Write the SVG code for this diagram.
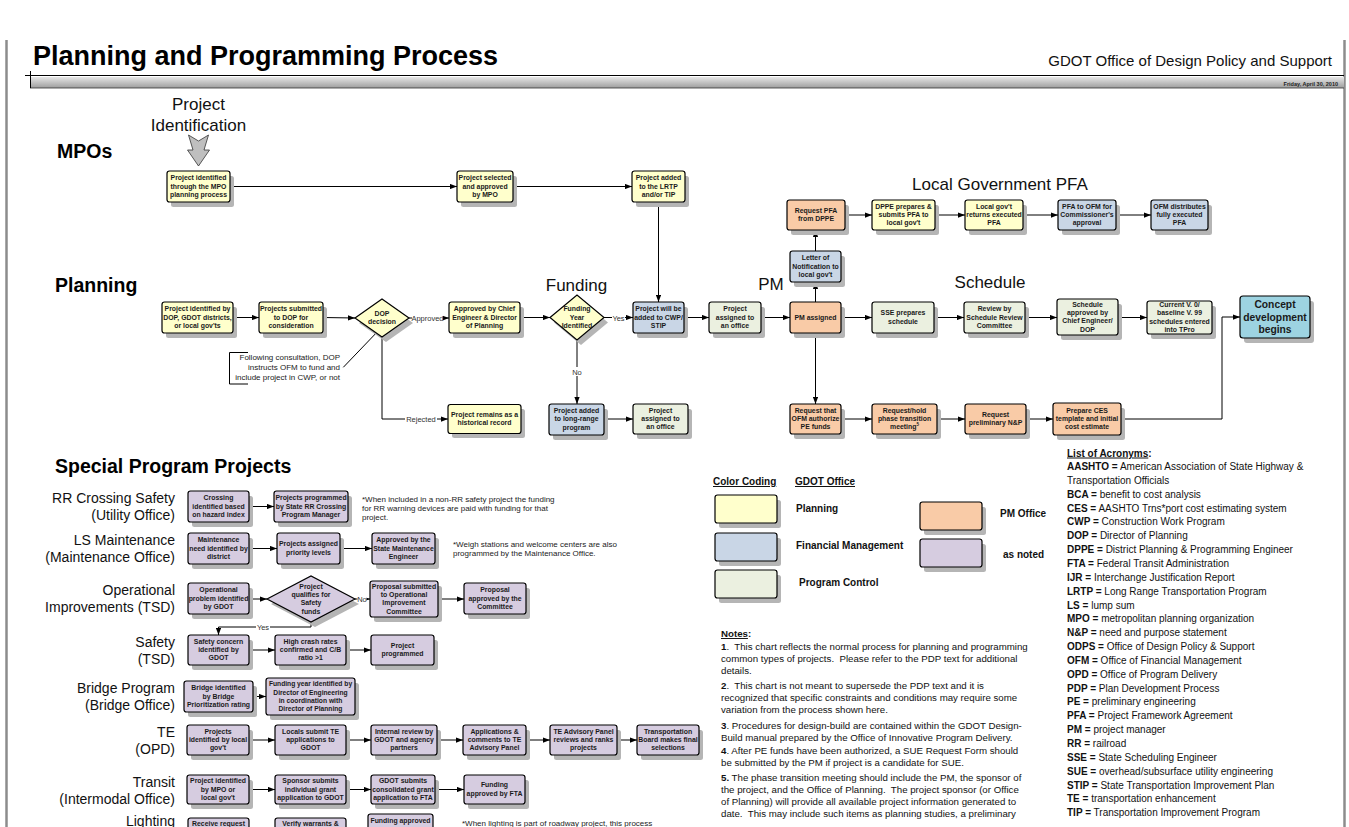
<svg xmlns="http://www.w3.org/2000/svg" width="1349" height="827" viewBox="0 0 1349 827">
<defs>
<style>
text{font-family:'Liberation Sans',Arial,sans-serif}
.n{stroke:#000;stroke-width:1.2}
.y{fill:#FFFFCC}.b{fill:#C9D6E6}.g{fill:#EBF0E0}.o{fill:#F9CBA7}.p{fill:#D6CCE0}.c{fill:#9DD3E1}
.sh{fill:#B5B5B5}
.t{font-weight:bold;font-size:6.9px;text-anchor:middle;fill:#1a1a1a}
.ln{stroke:#000;stroke-width:1;fill:none}
.lbl{font-size:7.5px;fill:#333;text-anchor:middle}
.hd{font-size:17px;fill:#111;text-anchor:middle}
.sec{font-size:19.5px;font-weight:bold;fill:#000}
.rl{font-size:14px;fill:#111;text-anchor:end}
.nt{font-size:8px;fill:#222}
.lg{font-size:10px;font-weight:bold;fill:#111}
.ac{font-size:10px;fill:#111}
.no{font-size:9.7px;fill:#111}
</style>
<marker id="ah" viewBox="0 0 8 6" refX="8" refY="3" markerWidth="7" markerHeight="5.5" markerUnits="userSpaceOnUse" orient="auto"><path d="M0,0 L8,3 L0,6 z" fill="#000"/></marker>
<linearGradient id="gb" x1="0" y1="0" x2="0" y2="1"><stop offset="0" stop-color="#e6e6e6"/><stop offset="1" stop-color="#9e9e9e"/></linearGradient>
</defs>
<rect width="1349" height="827" fill="#fff"/>
<g id="frame">
<line x1="6.5" y1="40" x2="6.5" y2="827" stroke="#8c8c8c" stroke-width="2.5"/>
<line x1="1344.5" y1="40" x2="1344.5" y2="827" stroke="#8c8c8c" stroke-width="2.5"/>
</g>
<g id="header">
<text x="33" y="65" font-size="27" font-weight="bold" fill="#000">Planning and Programming Process</text>
<text x="1332" y="66" font-size="15" text-anchor="end" fill="#111">GDOT Office of Design Policy and Support</text>
<rect x="30" y="77" width="1314" height="11" fill="url(#gb)"/>
<line x1="25" y1="75.5" x2="1344" y2="75.5" stroke="#000"/>
<line x1="30" y1="88" x2="1344" y2="88" stroke="#333" stroke-width="0.8"/>
<line x1="30.5" y1="71" x2="30.5" y2="88" stroke="#000"/>
<text x="1338" y="85.5" font-size="5.5" font-weight="bold" text-anchor="end" fill="#222">Friday, April 30, 2010</text>
</g>
<g id="section-labels">
<text class="sec" x="57" y="158">MPOs</text>
<text class="sec" x="55" y="292">Planning</text>
<text class="sec" x="55" y="473" font-size="20">Special Program Projects</text>
<text class="hd" x="198.5" y="110" font-size="16.5">Project</text>
<text class="hd" x="198.5" y="131" font-size="16.5">Identification</text>
<polygon points="188.5,135 198.5,141 208.5,135 204,150 209.5,150 198.5,166 187.5,150 193,150" fill="#BFBFBF" stroke="#333" stroke-width="0.8"/>
<text class="hd" x="1000" y="190">Local Government PFA</text>
<text class="hd" x="576.5" y="291">Funding</text>
<text class="hd" x="771" y="290">PM</text>
<text class="hd" x="990" y="288">Schedule</text>
</g>
<g id="connectors">
<line class="ln" x1="230" y1="186.5" x2="457" y2="186.5" marker-end="url(#ah)"/>
<line class="ln" x1="513" y1="186.5" x2="632" y2="186.5" marker-end="url(#ah)"/>
<line class="ln" x1="658.5" y1="202" x2="658.5" y2="302" marker-end="url(#ah)"/>
<line class="ln" x1="233" y1="317.5" x2="259" y2="317.5" marker-end="url(#ah)"/>
<line class="ln" x1="323" y1="317.5" x2="355" y2="318" marker-end="url(#ah)"/>
<line class="ln" x1="409" y1="318" x2="449" y2="318" marker-end="url(#ah)"/>
<rect x="412" y="313" width="31" height="9" fill="#fff"/>
<text class="lbl" x="427.5" y="320.5">Approved</text>
<line class="ln" x1="520" y1="317.5" x2="550" y2="317.5" marker-end="url(#ah)"/>
<line class="ln" x1="604" y1="317.5" x2="633" y2="317.5" marker-end="url(#ah)"/>
<rect x="612" y="313" width="13" height="9" fill="#fff"/>
<text class="lbl" x="618.5" y="320.5">Yes</text>
<line class="ln" x1="684" y1="317.5" x2="709" y2="317.5" marker-end="url(#ah)"/>
<line class="ln" x1="761" y1="317.5" x2="790" y2="317.5" marker-end="url(#ah)"/>
<line class="ln" x1="841" y1="317.5" x2="872" y2="317.5" marker-end="url(#ah)"/>
<line class="ln" x1="934" y1="317.5" x2="964" y2="317.5" marker-end="url(#ah)"/>
<line class="ln" x1="1025" y1="317.5" x2="1057" y2="317.5" marker-end="url(#ah)"/>
<line class="ln" x1="1118" y1="317.5" x2="1147" y2="317.5" marker-end="url(#ah)"/>
<line class="ln" x1="815.5" y1="302" x2="815.5" y2="282" marker-end="url(#ah)"/>
<line class="ln" x1="815.5" y1="251" x2="815.5" y2="230" marker-end="url(#ah)"/>
<line class="ln" x1="845" y1="215" x2="872" y2="215" marker-end="url(#ah)"/>
<line class="ln" x1="935" y1="215" x2="965" y2="215" marker-end="url(#ah)"/>
<line class="ln" x1="1023" y1="215" x2="1058" y2="215" marker-end="url(#ah)"/>
<line class="ln" x1="1116" y1="215" x2="1151" y2="215" marker-end="url(#ah)"/>
<line class="ln" x1="815.5" y1="333" x2="815.5" y2="404" marker-end="url(#ah)"/>
<line class="ln" x1="841" y1="419" x2="872" y2="419" marker-end="url(#ah)"/>
<line class="ln" x1="937" y1="419" x2="965" y2="419" marker-end="url(#ah)"/>
<line class="ln" x1="1026" y1="419" x2="1053" y2="419" marker-end="url(#ah)"/>
<polyline class="ln" points="1121,419 1222,419 1222,317 1240,317" marker-end="url(#ah)"/>
<line class="ln" x1="577" y1="340" x2="577" y2="404" marker-end="url(#ah)"/>
<rect x="571" y="367" width="12" height="9" fill="#fff"/>
<text class="lbl" x="577" y="374.5">No</text>
<line class="ln" x1="604" y1="419" x2="633" y2="419" marker-end="url(#ah)"/>
<polyline class="ln" points="382,337 382,419 448,419" marker-end="url(#ah)"/>
<rect x="405" y="414.5" width="32" height="9" fill="#fff"/>
<text class="lbl" x="421" y="422">Rejected</text>
<line class="ln" x1="343.3" y1="367.3" x2="380.7" y2="328.3" stroke-width="0.8"/>
<path class="ln" d="M248,352.5 H229.5 V384 H248" stroke-width="0.8"/>
<line class="ln" x1="249" y1="506.5" x2="274" y2="506.5" marker-end="url(#ah)"/>
<line class="ln" x1="249" y1="548.5" x2="277" y2="548.5" marker-end="url(#ah)"/>
<line class="ln" x1="340" y1="548.5" x2="372" y2="548.5" marker-end="url(#ah)"/>
<line class="ln" x1="249" y1="599" x2="267" y2="599" marker-end="url(#ah)"/>
<line class="ln" x1="355" y1="599" x2="370" y2="599" marker-end="url(#ah)"/>
<rect x="357.5" y="594.5" width="9" height="9" fill="#fff"/>
<text class="lbl" x="362" y="602">No</text>
<line class="ln" x1="438" y1="599" x2="464" y2="599" marker-end="url(#ah)"/>
<polyline class="ln" points="311,622 311,627 218.5,627 218.5,635" marker-end="url(#ah)"/>
<rect x="256" y="622.5" width="14" height="9" fill="#fff"/>
<text class="lbl" x="263" y="630">Yes</text>
<line class="ln" x1="249" y1="650" x2="275" y2="650" marker-end="url(#ah)"/>
<line class="ln" x1="346" y1="650" x2="371" y2="650" marker-end="url(#ah)"/>
<line class="ln" x1="253" y1="696.5" x2="266" y2="696.5" marker-end="url(#ah)"/>
<line class="ln" x1="249" y1="740" x2="275" y2="740" marker-end="url(#ah)"/>
<line class="ln" x1="346" y1="740" x2="371" y2="740" marker-end="url(#ah)"/>
<line class="ln" x1="437" y1="740" x2="463" y2="740" marker-end="url(#ah)"/>
<line class="ln" x1="526" y1="740" x2="550" y2="740" marker-end="url(#ah)"/>
<line class="ln" x1="617" y1="740" x2="637" y2="740" marker-end="url(#ah)"/>
<line class="ln" x1="249" y1="789.5" x2="275" y2="789.5" marker-end="url(#ah)"/>
<line class="ln" x1="346" y1="789.5" x2="371" y2="789.5" marker-end="url(#ah)"/>
<line class="ln" x1="435" y1="789.5" x2="464" y2="789.5" marker-end="url(#ah)"/>
</g>
<g id="annotations">
<text class="nt" font-size="7.7" text-anchor="end"><tspan x="340" y="360">Following consultation, DOP</tspan><tspan x="340" y="370">instructs OFM to fund and</tspan><tspan x="340" y="380">include project in CWP, or not</tspan></text>
<text class="nt"><tspan x="362" y="502">*When included in a non-RR safety project the funding</tspan><tspan x="362" y="511">for RR warning devices are paid with funding for that</tspan><tspan x="362" y="520">project.</tspan></text>
<text class="nt"><tspan x="453" y="547">*Weigh stations and welcome centers are also</tspan><tspan x="453" y="556">programmed by the Maintenance Office.</tspan></text>
<text class="nt" x="462" y="826">*When lighting is part of roadway project, this process</text>
</g>
<g id="row-labels">
<text class="rl" x="175" y="503">RR Crossing Safety</text><text class="rl" x="175" y="520">(Utility Office)</text>
<text class="rl" x="175" y="545">LS Maintenance</text><text class="rl" x="175" y="562">(Maintenance Office)</text>
<text class="rl" x="175" y="595">Operational</text><text class="rl" x="175" y="612">Improvements (TSD)</text>
<text class="rl" x="175" y="647">Safety</text><text class="rl" x="175" y="664">(TSD)</text>
<text class="rl" x="175" y="693">Bridge Program</text><text class="rl" x="175" y="710">(Bridge Office)</text>
<text class="rl" x="175" y="737">TE</text><text class="rl" x="175" y="754">(OPD)</text>
<text class="rl" x="175" y="787">Transit</text><text class="rl" x="175" y="804">(Intermodal Office)</text>
<text class="rl" x="175" y="826">Lighting</text>
</g>
<g id="A1"><rect class="sh" x="171" y="176" width="63" height="31" rx="2.5"/><rect class="n y" x="167" y="171" width="63" height="31" rx="2.5"/><text class="t" y="180.2"><tspan x="198.5">Project identified</tspan><tspan x="198.5" dy="8.3">through the MPO</tspan><tspan x="198.5" dy="8.3">planning process</tspan></text></g>
<g id="A2"><rect class="sh" x="461" y="176" width="56" height="31" rx="2.5"/><rect class="n y" x="457" y="171" width="56" height="31" rx="2.5"/><text class="t" y="180.2"><tspan x="485">Project selected</tspan><tspan x="485" dy="8.3">and approved</tspan><tspan x="485" dy="8.3">by MPO</tspan></text></g>
<g id="A3"><rect class="sh" x="636" y="176" width="53" height="31" rx="2.5"/><rect class="n y" x="632" y="171" width="53" height="31" rx="2.5"/><text class="t" y="180.2"><tspan x="658.5">Project added</tspan><tspan x="658.5" dy="8.3">to the LRTP</tspan><tspan x="658.5" dy="8.3">and/or TIP</tspan></text></g>
<g id="P1"><rect class="sh" x="791" y="205" width="58" height="30" rx="2.5"/><rect class="n o" x="787" y="200" width="58" height="30" rx="2.5"/><text class="t" y="212.9"><tspan x="816">Request PFA</tspan><tspan x="816" dy="8.3">from DPPE</tspan></text></g>
<g id="P2"><rect class="sh" x="876" y="205" width="63" height="30" rx="2.5"/><rect class="n y" x="872" y="200" width="63" height="30" rx="2.5"/><text class="t" y="208.7"><tspan x="903.5">DPPE prepares &amp;</tspan><tspan x="903.5" dy="8.3">submits PFA to</tspan><tspan x="903.5" dy="8.3">local gov't</tspan></text></g>
<g id="P3"><rect class="sh" x="969" y="205" width="58" height="30" rx="2.5"/><rect class="n y" x="965" y="200" width="58" height="30" rx="2.5"/><text class="t" y="208.7"><tspan x="994">Local gov't</tspan><tspan x="994" dy="8.3">returns executed</tspan><tspan x="994" dy="8.3">PFA</tspan></text></g>
<g id="P4"><rect class="sh" x="1062" y="205" width="58" height="30" rx="2.5"/><rect class="n b" x="1058" y="200" width="58" height="30" rx="2.5"/><text class="t" y="208.7"><tspan x="1087">PFA to OFM for</tspan><tspan x="1087" dy="8.3">Commissioner's</tspan><tspan x="1087" dy="8.3">approval</tspan></text></g>
<g id="P5"><rect class="sh" x="1155" y="205" width="57" height="30" rx="2.5"/><rect class="n b" x="1151" y="200" width="57" height="30" rx="2.5"/><text class="t" y="208.7"><tspan x="1179.5">OFM distributes</tspan><tspan x="1179.5" dy="8.3">fully executed</tspan><tspan x="1179.5" dy="8.3">PFA</tspan></text></g>
<g id="L1"><rect class="sh" x="794" y="256" width="51" height="31" rx="2.5"/><rect class="n b" x="790" y="251" width="51" height="31" rx="2.5"/><text class="t" y="260.2"><tspan x="815.5">Letter of</tspan><tspan x="815.5" dy="8.3">Notification to</tspan><tspan x="815.5" dy="8.3">local gov't</tspan></text></g>
<g id="B1"><rect class="sh" x="166" y="307" width="71" height="31" rx="2.5"/><rect class="n y" x="162" y="302" width="71" height="31" rx="2.5"/><text class="t" y="311.2"><tspan x="197.5">Project identified by</tspan><tspan x="197.5" dy="8.3">DOP, GDOT districts,</tspan><tspan x="197.5" dy="8.3">or local gov'ts</tspan></text></g>
<g id="B2"><rect class="sh" x="263" y="307" width="64" height="31" rx="2.5"/><rect class="n y" x="259" y="302" width="64" height="31" rx="2.5"/><text class="t" y="311.2"><tspan x="291">Projects submitted</tspan><tspan x="291" dy="8.3">to DOP for</tspan><tspan x="291" dy="8.3">consideration</tspan></text></g>
<g id="D1"><polygon class="sh" points="359,323 386,304 413,323 386,342"/><polygon class="n y" points="355,318 382,299 409,318 382,337"/><text class="t" y="315.9"><tspan x="382">DOP</tspan><tspan x="382" dy="8.3">decision</tspan></text></g>
<g id="B3"><rect class="sh" x="453" y="307" width="71" height="31" rx="2.5"/><rect class="n y" x="449" y="302" width="71" height="31" rx="2.5"/><text class="t" y="311.2"><tspan x="484.5">Approved by Chief</tspan><tspan x="484.5" dy="8.3">Engineer &amp; Director</tspan><tspan x="484.5" dy="8.3">of Planning</tspan></text></g>
<g id="D2"><polygon class="sh" points="554,322.5 581,300 608,322.5 581,345"/><polygon class="n y" points="550,317.5 577,295 604,317.5 577,340"/><text class="t" y="311.2"><tspan x="577">Funding</tspan><tspan x="577" dy="8.3">Year</tspan><tspan x="577" dy="8.3">Identified</tspan></text></g>
<g id="B4"><rect class="sh" x="637" y="307" width="51" height="31" rx="2.5"/><rect class="n b" x="633" y="302" width="51" height="31" rx="2.5"/><text class="t" y="311.2"><tspan x="658.5">Project will be</tspan><tspan x="658.5" dy="8.3">added to CWP/</tspan><tspan x="658.5" dy="8.3">STIP</tspan></text></g>
<g id="B5"><rect class="sh" x="713" y="307" width="52" height="31" rx="2.5"/><rect class="n g" x="709" y="302" width="52" height="31" rx="2.5"/><text class="t" y="311.2"><tspan x="735">Project</tspan><tspan x="735" dy="8.3">assigned to</tspan><tspan x="735" dy="8.3">an office</tspan></text></g>
<g id="B6"><rect class="sh" x="794" y="307" width="51" height="31" rx="2.5"/><rect class="n o" x="790" y="302" width="51" height="31" rx="2.5"/><text class="t" x="815.5" y="320">PM assigned</text></g>
<g id="B7"><rect class="sh" x="876" y="307" width="62" height="31" rx="2.5"/><rect class="n g" x="872" y="302" width="62" height="31" rx="2.5"/><text class="t" y="315.4"><tspan x="903">SSE prepares</tspan><tspan x="903" dy="8.3">schedule</tspan></text></g>
<g id="B8"><rect class="sh" x="968" y="307" width="61" height="31" rx="2.5"/><rect class="n g" x="964" y="302" width="61" height="31" rx="2.5"/><text class="t" y="311.2"><tspan x="994.5">Review by</tspan><tspan x="994.5" dy="8.3">Schedule Review</tspan><tspan x="994.5" dy="8.3">Committee</tspan></text></g>
<g id="B9"><rect class="sh" x="1061" y="304" width="61" height="36" rx="2.5"/><rect class="n g" x="1057" y="299" width="61" height="36" rx="2.5"/><text class="t" y="306.6"><tspan x="1087.5">Schedule</tspan><tspan x="1087.5" dy="8.3">approved by</tspan><tspan x="1087.5" dy="8.3">Chief Engineer/</tspan><tspan x="1087.5" dy="8.3">DOP</tspan></text></g>
<g id="B10"><rect class="sh" x="1151" y="306" width="65" height="33" rx="2.5"/><rect class="n g" x="1147" y="301" width="65" height="33" rx="2.5"/><text class="t" y="307.1"><tspan x="1179.5">Current V. 0/</tspan><tspan x="1179.5" dy="8.3">baseline V. 99</tspan><tspan x="1179.5" dy="8.3">schedules entered</tspan><tspan x="1179.5" dy="8.3">into TPro</tspan></text></g>
<g id="C"><rect class="sh" x="1244" y="301" width="70" height="42" rx="3"/><rect class="n c" x="1240" y="296" width="70" height="42" rx="3"/><text class="t" y="308" style="font-size:10.3px"><tspan x="1275">Concept</tspan><tspan x="1275" dy="12.5">development</tspan><tspan x="1275" dy="12.5">begins</tspan></text></g>
<g id="R1"><rect class="sh" x="452" y="409" width="73" height="29" rx="2.5"/><rect class="n y" x="448" y="404.5" width="73" height="29" rx="2.5"/><text class="t" y="416.9"><tspan x="484.5">Project remains as a</tspan><tspan x="484.5" dy="8.3">historical record</tspan></text></g>
<g id="R2"><rect class="sh" x="553" y="409" width="55" height="31" rx="2.5"/><rect class="n b" x="549" y="404" width="55" height="31" rx="2.5"/><text class="t" y="412.9"><tspan x="576.5">Project added</tspan><tspan x="576.5" dy="8.3">to long-range</tspan><tspan x="576.5" dy="8.3">program</tspan></text></g>
<g id="R3"><rect class="sh" x="637" y="409" width="55" height="30" rx="2.5"/><rect class="n g" x="633" y="404" width="55" height="30" rx="2.5"/><text class="t" y="412.7"><tspan x="660.5">Project</tspan><tspan x="660.5" dy="8.3">assigned to</tspan><tspan x="660.5" dy="8.3">an office</tspan></text></g>
<g id="R4"><rect class="sh" x="794" y="409" width="51" height="30" rx="2.5"/><rect class="n o" x="790" y="404" width="51" height="30" rx="2.5"/><text class="t" y="412.7"><tspan x="815.5">Request that</tspan><tspan x="815.5" dy="8.3">OFM authorize</tspan><tspan x="815.5" dy="8.3">PE funds</tspan></text></g>
<g id="R5"><rect class="sh" x="876" y="409" width="65" height="30" rx="2.5"/><rect class="n o" x="872" y="404" width="65" height="30" rx="2.5"/><text class="t" y="412.7"><tspan x="904.5">Request/hold</tspan><tspan x="904.5" dy="8.3">phase transition</tspan><tspan x="904.5" dy="8.3">meeting<tspan font-size="4.5" dy="-3">5</tspan></tspan></text></g>
<g id="R6"><rect class="sh" x="969" y="409" width="61" height="30" rx="2.5"/><rect class="n o" x="965" y="404" width="61" height="30" rx="2.5"/><text class="t" y="416.9"><tspan x="995.5">Request</tspan><tspan x="995.5" dy="8.3">preliminary N&amp;P</tspan></text></g>
<g id="R7"><rect class="sh" x="1057" y="408" width="68" height="32" rx="2.5"/><rect class="n o" x="1053" y="403" width="68" height="32" rx="2.5"/><text class="t" y="412.7"><tspan x="1087">Prepare CES</tspan><tspan x="1087" dy="8.3">template and initial</tspan><tspan x="1087" dy="8.3">cost estimate</tspan></text></g>
<g id="S1"><rect class="sh" x="192" y="496" width="61" height="31" rx="2.5"/><rect class="n p" x="188" y="491" width="61" height="31" rx="2.5"/><text class="t" y="500.2"><tspan x="218.5">Crossing</tspan><tspan x="218.5" dy="8.3">identified based</tspan><tspan x="218.5" dy="8.3">on hazard index</tspan></text></g>
<g id="S2"><rect class="sh" x="278" y="496" width="74" height="31" rx="2.5"/><rect class="n p" x="274" y="491" width="74" height="31" rx="2.5"/><text class="t" y="500.2"><tspan x="311">Projects programmed</tspan><tspan x="311" dy="8.3">by State RR Crossing</tspan><tspan x="311" dy="8.3">Program Manager</tspan></text></g>
<g id="S3"><rect class="sh" x="192" y="538" width="61" height="31" rx="2.5"/><rect class="n p" x="188" y="533" width="61" height="31" rx="2.5"/><text class="t" y="542.2"><tspan x="218.5">Maintenance</tspan><tspan x="218.5" dy="8.3">need identified by</tspan><tspan x="218.5" dy="8.3">district</tspan></text></g>
<g id="S4"><rect class="sh" x="281" y="538" width="63" height="31" rx="2.5"/><rect class="n p" x="277" y="533" width="63" height="31" rx="2.5"/><text class="t" y="546.4"><tspan x="308.5">Projects assigned</tspan><tspan x="308.5" dy="8.3">priority levels</tspan></text></g>
<g id="S5"><rect class="sh" x="376" y="538" width="63" height="31" rx="2.5"/><rect class="n p" x="372" y="533" width="63" height="31" rx="2.5"/><text class="t" y="542.2"><tspan x="403.5">Approved by the</tspan><tspan x="403.5" dy="8.3">State Maintenance</tspan><tspan x="403.5" dy="8.3">Engineer</tspan></text></g>
<g id="S6"><rect class="sh" x="192" y="588" width="61" height="31" rx="2.5"/><rect class="n p" x="188" y="583" width="61" height="31" rx="2.5"/><text class="t" y="592.2"><tspan x="218.5">Operational</tspan><tspan x="218.5" dy="8.3">problem identified</tspan><tspan x="218.5" dy="8.3">by GDOT</tspan></text></g>
<g id="SD"><polygon class="sh" points="271,604 315,581 359,604 315,627"/><polygon class="n p" points="267,599 311,576 355,599 311,622"/><text class="t" y="588.6"><tspan x="311">Project</tspan><tspan x="311" dy="8.3">qualifies for</tspan><tspan x="311" dy="8.3">Safety</tspan><tspan x="311" dy="8.3">funds</tspan></text></g>
<g id="S7"><rect class="sh" x="374" y="586" width="68" height="36" rx="2.5"/><rect class="n p" x="370" y="581" width="68" height="36" rx="2.5"/><text class="t" y="588.6"><tspan x="404">Proposal submitted</tspan><tspan x="404" dy="8.3">to Operational</tspan><tspan x="404" dy="8.3">Improvement</tspan><tspan x="404" dy="8.3">Committee</tspan></text></g>
<g id="S8"><rect class="sh" x="468" y="588" width="62" height="31" rx="2.5"/><rect class="n p" x="464" y="583" width="62" height="31" rx="2.5"/><text class="t" y="592.2"><tspan x="495">Proposal</tspan><tspan x="495" dy="8.3">approved by the</tspan><tspan x="495" dy="8.3">Committee</tspan></text></g>
<g id="S9"><rect class="sh" x="192" y="640" width="61" height="30" rx="2.5"/><rect class="n p" x="188" y="635" width="61" height="30" rx="2.5"/><text class="t" y="643.7"><tspan x="218.5">Safety concern</tspan><tspan x="218.5" dy="8.3">identified by</tspan><tspan x="218.5" dy="8.3">GDOT</tspan></text></g>
<g id="S10"><rect class="sh" x="279" y="640" width="71" height="30" rx="2.5"/><rect class="n p" x="275" y="635" width="71" height="30" rx="2.5"/><text class="t" y="643.7"><tspan x="310.5">High crash rates</tspan><tspan x="310.5" dy="8.3">confirmed and C/B</tspan><tspan x="310.5" dy="8.3">ratio &gt;1</tspan></text></g>
<g id="S11"><rect class="sh" x="375" y="640" width="63" height="30" rx="2.5"/><rect class="n p" x="371" y="635" width="63" height="30" rx="2.5"/><text class="t" y="647.9"><tspan x="402.5">Project</tspan><tspan x="402.5" dy="8.3">programmed</tspan></text></g>
<g id="S12"><rect class="sh" x="188" y="686" width="69" height="31" rx="2.5"/><rect class="n p" x="184" y="681" width="69" height="31" rx="2.5"/><text class="t" y="690.2"><tspan x="218.5">Bridge identified</tspan><tspan x="218.5" dy="8.3">by Bridge</tspan><tspan x="218.5" dy="8.3">Prioritization rating</tspan></text></g>
<g id="S13"><rect class="sh" x="270" y="683" width="89" height="37" rx="2.5"/><rect class="n p" x="266" y="678" width="89" height="37" rx="2.5"/><text class="t" y="686.3" style="font-size:6.7px"><tspan x="310.5">Funding year identified by</tspan><tspan x="310.5" dy="8.3">Director of Engineering</tspan><tspan x="310.5" dy="8.3">in coordination with</tspan><tspan x="310.5" dy="8.3">Director of Planning</tspan></text></g>
<g id="S14"><rect class="sh" x="191" y="730" width="62" height="30" rx="2.5"/><rect class="n p" x="187" y="725" width="62" height="30" rx="2.5"/><text class="t" y="733.7"><tspan x="218">Projects</tspan><tspan x="218" dy="8.3">identified by local</tspan><tspan x="218" dy="8.3">gov't</tspan></text></g>
<g id="S15"><rect class="sh" x="279" y="730" width="71" height="30" rx="2.5"/><rect class="n p" x="275" y="725" width="71" height="30" rx="2.5"/><text class="t" y="733.7"><tspan x="310.5">Locals submit TE</tspan><tspan x="310.5" dy="8.3">applications to</tspan><tspan x="310.5" dy="8.3">GDOT</tspan></text></g>
<g id="S16"><rect class="sh" x="375" y="730" width="66" height="30" rx="2.5"/><rect class="n p" x="371" y="725" width="66" height="30" rx="2.5"/><text class="t" y="733.7"><tspan x="404">Internal review by</tspan><tspan x="404" dy="8.3">GDOT and agency</tspan><tspan x="404" dy="8.3">partners</tspan></text></g>
<g id="S17"><rect class="sh" x="467" y="730" width="63" height="30" rx="2.5"/><rect class="n p" x="463" y="725" width="63" height="30" rx="2.5"/><text class="t" y="733.7"><tspan x="494.5">Applications &amp;</tspan><tspan x="494.5" dy="8.3">comments to TE</tspan><tspan x="494.5" dy="8.3">Advisory Panel</tspan></text></g>
<g id="S18"><rect class="sh" x="554" y="730" width="67" height="30" rx="2.5"/><rect class="n p" x="550" y="725" width="67" height="30" rx="2.5"/><text class="t" y="733.7"><tspan x="583.5">TE Advisory Panel</tspan><tspan x="583.5" dy="8.3">reviews and ranks</tspan><tspan x="583.5" dy="8.3">projects</tspan></text></g>
<g id="S19"><rect class="sh" x="641" y="730" width="62" height="30" rx="2.5"/><rect class="n p" x="637" y="725" width="62" height="30" rx="2.5"/><text class="t" y="733.7"><tspan x="668">Transportation</tspan><tspan x="668" dy="8.3">Board makes final</tspan><tspan x="668" dy="8.3">selections</tspan></text></g>
<g id="S20"><rect class="sh" x="191" y="780" width="62" height="29" rx="2.5"/><rect class="n p" x="187" y="775" width="62" height="29" rx="2.5"/><text class="t" y="783.2"><tspan x="218">Project identified</tspan><tspan x="218" dy="8.3">by MPO or</tspan><tspan x="218" dy="8.3">local gov't</tspan></text></g>
<g id="S21"><rect class="sh" x="279" y="780" width="71" height="29" rx="2.5"/><rect class="n p" x="275" y="775" width="71" height="29" rx="2.5"/><text class="t" y="783.2"><tspan x="310.5">Sponsor submits</tspan><tspan x="310.5" dy="8.3">individual grant</tspan><tspan x="310.5" dy="8.3">application to GDOT</tspan></text></g>
<g id="S22"><rect class="sh" x="375" y="780" width="64" height="29" rx="2.5"/><rect class="n p" x="371" y="775" width="64" height="29" rx="2.5"/><text class="t" y="783.2"><tspan x="403">GDOT submits</tspan><tspan x="403" dy="8.3">consolidated grant</tspan><tspan x="403" dy="8.3">application to FTA</tspan></text></g>
<g id="S23"><rect class="sh" x="468" y="780" width="61" height="29" rx="2.5"/><rect class="n p" x="464" y="775" width="61" height="29" rx="2.5"/><text class="t" y="787.4"><tspan x="494.5">Funding</tspan><tspan x="494.5" dy="8.3">approved by FTA</tspan></text></g>
<g id="S24"><rect class="n p" x="188" y="818" width="61" height="30" rx="2.5"/><text class="t" x="218.5" y="826">Receive request</text></g>
<g id="S25"><rect class="n p" x="275" y="818" width="71" height="30" rx="2.5"/><text class="t" x="310.5" y="826">Verify warrants &amp;</text></g>
<g id="S26"><rect class="n p" x="368" y="814" width="65" height="30" rx="2.5"/><text class="t" x="400.5" y="822.5">Funding approved</text></g>
<g id="legend">
<text class="lg" x="713" y="485" text-decoration="underline">Color Coding</text>
<text class="lg" x="795" y="485" text-decoration="underline">GDOT Office</text>
<rect class="sh" x="719" y="500" width="62" height="28" rx="2.5"/><rect class="n y" x="715" y="495" width="62" height="28" rx="2.5"/>
<rect class="sh" x="719" y="538" width="62" height="28" rx="2.5"/><rect class="n b" x="715" y="533" width="62" height="28" rx="2.5"/>
<rect class="sh" x="719" y="575" width="62" height="28" rx="2.5"/><rect class="n g" x="715" y="570" width="62" height="28" rx="2.5"/>
<rect class="sh" x="924" y="507" width="62" height="28" rx="2.5"/><rect class="n o" x="920" y="502" width="62" height="28" rx="2.5"/>
<rect class="sh" x="924" y="544" width="62" height="28" rx="2.5"/><rect class="n p" x="920" y="539" width="62" height="28" rx="2.5"/>
<text class="lg" x="796" y="512">Planning</text>
<text class="lg" x="796" y="549">Financial Management</text>
<text class="lg" x="799" y="586">Program Control</text>
<text class="lg" x="1000" y="517">PM Office</text>
<text class="lg" x="1003" y="558">as noted</text>
</g>
<g id="notes" class="no">
<text class="no" x="721" y="637"><tspan font-weight="bold" text-decoration="underline">Notes</tspan><tspan font-weight="bold">:</tspan></text>
<text class="no" x="721" y="650"><tspan font-weight="bold">1</tspan>.&#160; This chart reflects the normal process for planning and programming</text>
<text class="no" x="721" y="662">common types of projects.&#160; Please refer to the PDP text for additional</text>
<text class="no" x="721" y="674">details.</text>
<text class="no" x="721" y="689"><tspan font-weight="bold">2</tspan>.&#160; This chart is not meant to supersede the PDP text and it is</text>
<text class="no" x="721" y="701">recognized that specific constraints and conditions may require some</text>
<text class="no" x="721" y="713">variation from the process shown here.</text>
<text class="no" x="721" y="729"><tspan font-weight="bold">3</tspan>. Procedures for design-build are contained within the GDOT Design-</text>
<text class="no" x="721" y="741">Build manual prepared by the Office of Innovative Program Delivery.</text>
<text class="no" x="721" y="754"><tspan font-weight="bold">4</tspan>. After PE funds have been authorized, a SUE Request Form should</text>
<text class="no" x="721" y="766">be submitted by the PM if project is a candidate for SUE.</text>
<text class="no" x="721" y="781"><tspan font-weight="bold">5.</tspan> The phase transition meeting should include the PM, the sponsor of</text>
<text class="no" x="721" y="793">the project, and the Office of Planning.&#160; The project sponsor (or Office</text>
<text class="no" x="721" y="805">of Planning) will provide all available project information generated to</text>
<text class="no" x="721" y="817">date.&#160; This may include such items as planning studies, a preliminary</text>
</g>
<g id="acronyms">
<text class="ac" x="1067" y="456.5"><tspan font-weight="bold" text-decoration="underline">List of Acronyms</tspan><tspan font-weight="bold">:</tspan></text>
<text class="ac" x="1067" y="470"><tspan font-weight="bold">AASHTO =</tspan> American Association of State Highway &amp;</text>
<text class="ac" x="1067" y="483.8">Transportation Officials</text>
<text class="ac" x="1067" y="497.7"><tspan font-weight="bold">BCA =</tspan> benefit to cost analysis</text>
<text class="ac" x="1067" y="511.5"><tspan font-weight="bold">CES =</tspan> AASHTO Trns*port cost estimating system</text>
<text class="ac" x="1067" y="525.4"><tspan font-weight="bold">CWP =</tspan> Construction Work Program</text>
<text class="ac" x="1067" y="539.2"><tspan font-weight="bold">DOP =</tspan> Director of Planning</text>
<text class="ac" x="1067" y="553.1"><tspan font-weight="bold">DPPE =</tspan> District Planning &amp; Programming Engineer</text>
<text class="ac" x="1067" y="566.9"><tspan font-weight="bold">FTA =</tspan> Federal Transit Administration</text>
<text class="ac" x="1067" y="580.8"><tspan font-weight="bold">IJR =</tspan> Interchange Justification Report</text>
<text class="ac" x="1067" y="594.6"><tspan font-weight="bold">LRTP =</tspan> Long Range Transportation Program</text>
<text class="ac" x="1067" y="608.5"><tspan font-weight="bold">LS =</tspan> lump sum</text>
<text class="ac" x="1067" y="622.3"><tspan font-weight="bold">MPO =</tspan> metropolitan planning organization</text>
<text class="ac" x="1067" y="636.2"><tspan font-weight="bold">N&amp;P =</tspan> need and purpose statement</text>
<text class="ac" x="1067" y="650"><tspan font-weight="bold">ODPS =</tspan> Office of Design Policy &amp; Support</text>
<text class="ac" x="1067" y="663.9"><tspan font-weight="bold">OFM =</tspan> Office of Financial Management</text>
<text class="ac" x="1067" y="677.7"><tspan font-weight="bold">OPD =</tspan> Office of Program Delivery</text>
<text class="ac" x="1067" y="691.6"><tspan font-weight="bold">PDP =</tspan> Plan Development Process</text>
<text class="ac" x="1067" y="705.4"><tspan font-weight="bold">PE =</tspan> preliminary engineering</text>
<text class="ac" x="1067" y="719.3"><tspan font-weight="bold">PFA =</tspan> Project Framework Agreement</text>
<text class="ac" x="1067" y="733.1"><tspan font-weight="bold">PM =</tspan> project manager</text>
<text class="ac" x="1067" y="747"><tspan font-weight="bold">RR =</tspan> railroad</text>
<text class="ac" x="1067" y="760.8"><tspan font-weight="bold">SSE =</tspan> State Scheduling Engineer</text>
<text class="ac" x="1067" y="774.7"><tspan font-weight="bold">SUE =</tspan> overhead/subsurface utility engineering</text>
<text class="ac" x="1067" y="788.5"><tspan font-weight="bold">STIP =</tspan> State Transportation Improvement Plan</text>
<text class="ac" x="1067" y="802.4"><tspan font-weight="bold">TE =</tspan> transportation enhancement</text>
<text class="ac" x="1067" y="816.2"><tspan font-weight="bold">TIP =</tspan> Transportation Improvement Program</text>
</g>
</svg>
